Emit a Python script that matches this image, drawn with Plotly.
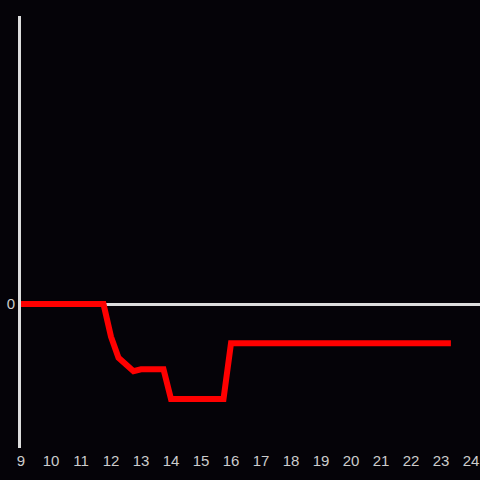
import plotly.graph_objects as go

hours = [9, 11.75, 12.0, 12.25, 12.75, 13.0, 13.75, 14.0, 15.75, 16.0, 23.33]
values = [0, 0, -0.34, -0.56, -0.70, -0.68, -0.68, -0.99, -0.99, -0.41, -0.41]
x_ticks = list(range(9, 25))

fig = go.Figure()
fig.add_trace(go.Scatter(x=hours, y=values, mode="lines",
                         line=dict(color="#ff0000", width=6), hoverinfo="skip"))

bg = "#050308"
fig.update_layout(
    width=480, height=480,
    paper_bgcolor=bg, plot_bgcolor=bg,
    margin=dict(l=21, r=0, t=16, b=32),
    showlegend=False,
    font=dict(family="Liberation Sans, Arial, sans-serif", size=15, color="#cccccc"),
    xaxis=dict(range=[9, 24.3], tickvals=x_ticks, ticktext=[str(t) for t in x_ticks],
               showgrid=False, zeroline=False, showline=False, ticks="",
               ticklabelstandoff=2,
               tickfont=dict(size=15, color="#cccccc")),
    yaxis=dict(range=[-1.5, 3], tickvals=[0], ticktext=["0"],
               showgrid=False, zeroline=True, zerolinecolor="#dddddd", zerolinewidth=3,
               showline=True, linecolor="#dddddd", linewidth=3, ticks="",
               tickfont=dict(size=15, color="#cccccc")),
)
fig.write_html("out.html", config={"displayModeBar": False},
               post_script="document.body.style.margin='0';document.body.style.background='%s';" % bg)
